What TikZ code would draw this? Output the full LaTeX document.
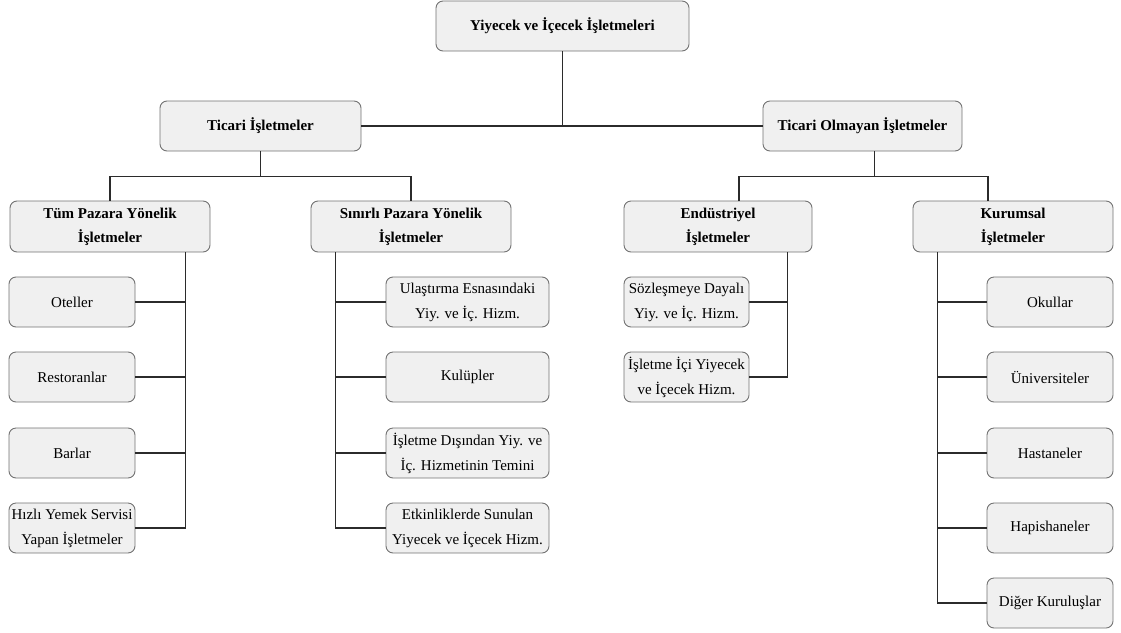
\documentclass[tikz,border=0pt]{standalone}
\usepackage{fontspec}
\setmainfont{Liberation Serif}
\definecolor{boxfill}{HTML}{F0F0F0}
\definecolor{boxline}{HTML}{727272}
\definecolor{linkcol}{HTML}{2B2B2B}
\begin{document}
\begin{tikzpicture}[x=1pt,y=-1pt,
  box/.style={draw=boxline, fill=boxfill, rounded corners=7pt, line width=0.9pt,
    inner sep=0pt, align=center, font=\fontsize{15}{25}\selectfont},
  head/.style={box, font=\bfseries\fontsize{15}{24}\selectfont},
  link/.style={draw=linkcol, line width=1.1pt}]
\useasboundingbox (0,0) rectangle (1121,632);

% root and first level
\node[head, minimum width=253pt, minimum height=50pt] (top) at (562.5,26) {Yiyecek ve İçecek İşletmeleri};
\node[head, minimum width=201pt, minimum height=50pt] (tic) at (260.5,126) {Ticari İşletmeler};
\node[head, minimum width=199pt, minimum height=50pt] (tno) at (862.5,126) {Ticari Olmayan İşletmeler};

% second level
\node[head, minimum width=200pt, minimum height=51pt] (tum) at (110,226.5) {Tüm Pazara Yönelik\\İşletmeler};
\node[head, minimum width=200pt, minimum height=51pt] (sin) at (411,226.5) {Sınırlı Pazara Yönelik\\İşletmeler};
\node[head, minimum width=188pt, minimum height=51pt] (end) at (718,226.5) {Endüstriyel\\İşletmeler};
\node[head, minimum width=200pt, minimum height=51pt] (kur) at (1013,226.5) {Kurumsal\\İşletmeler};

% leaves: all-market businesses
\node[box, minimum width=126pt, minimum height=50pt] (otel) at (72,302) {Oteller};
\node[box, minimum width=126pt, minimum height=50pt] (rest) at (72,377) {Restoranlar};
\node[box, minimum width=126pt, minimum height=50pt] (bar) at (72,453) {Barlar};
\node[box, minimum width=126pt, minimum height=50pt] (hiz) at (72,528) {Hızlı Yemek Servisi\\Yapan İşletmeler};

% leaves: limited-market businesses
\node[box, minimum width=163pt, minimum height=50pt] (ula) at (467.5,302) {Ulaştırma Esnasındaki\\Yiy. ve İç. Hizm.};
\node[box, minimum width=163pt, minimum height=50pt] (kul) at (467.5,377) {Kulüpler};
\node[box, minimum width=163pt, minimum height=50pt] (dis) at (467.5,453) {İşletme Dışından Yiy. ve\\İç. Hizmetinin Temini};
\node[box, minimum width=163pt, minimum height=50pt] (etk) at (467.5,528) {Etkinliklerde Sunulan\\Yiyecek ve İçecek Hizm.};

% leaves: industrial
\node[box, minimum width=125pt, minimum height=50pt] (soz) at (686.5,302) {Sözleşmeye Dayalı\\Yiy. ve İç. Hizm.};
\node[box, minimum width=125pt, minimum height=50pt] (ici) at (686.5,377) {İşletme İçi Yiyecek\\ve İçecek Hizm.};

% leaves: institutional
\node[box, minimum width=126pt, minimum height=50pt] (oku) at (1050,302) {Okullar};
\node[box, minimum width=126pt, minimum height=50pt] (uni) at (1050,377) {Üniversiteler};
\node[box, minimum width=126pt, minimum height=50pt] (has) at (1050,453) {Hastaneler};
\node[box, minimum width=126pt, minimum height=50pt] (hap) at (1050,528) {Hapishaneler};
\node[box, minimum width=126pt, minimum height=50pt] (dig) at (1050,603) {Diğer Kuruluşlar};

% root to first level
\draw[link] (tic.east) -- (tno.west);
\draw[link] (top.south) -- (top.south |- tic.east);

% first to second level
\draw[link] (tic.south) -- ++(0,25) -| (tum.north);
\draw[link] (tic.south) ++(0,25) -| (sin.north);
\draw[link] ([xshift=12pt]tno.south) -- ++(0,25) -| ([xshift=21pt]end.north);
\draw[link] ([xshift=12pt]tno.south) ++(0,25) -| ([xshift=-25pt]kur.north);

% second level to leaves: one trunk per group, 25pt in from a box side
\coordinate (tumv) at ([xshift=-25pt]tum.south east);
\coordinate (sinv) at ([xshift=25pt]sin.south west);
\coordinate (endv) at ([xshift=-25pt]end.south east);
\coordinate (kurv) at ([xshift=25pt]kur.south west);

\draw[link] (tumv) |- (hiz.east);
\foreach \c in {otel,rest,bar} \draw[link] (\c.east) -- (\c.east -| tumv);

\draw[link] (sinv) |- (etk.west);
\foreach \c in {ula,kul,dis} \draw[link] (\c.west) -- (\c.west -| sinv);

\draw[link] (endv) |- (ici.east);
\draw[link] (soz.east) -- (soz.east -| endv);

\draw[link] (kurv) |- (dig.west);
\foreach \c in {oku,uni,has,hap} \draw[link] (\c.west) -- (\c.west -| kurv);
\end{tikzpicture}
\end{document}
